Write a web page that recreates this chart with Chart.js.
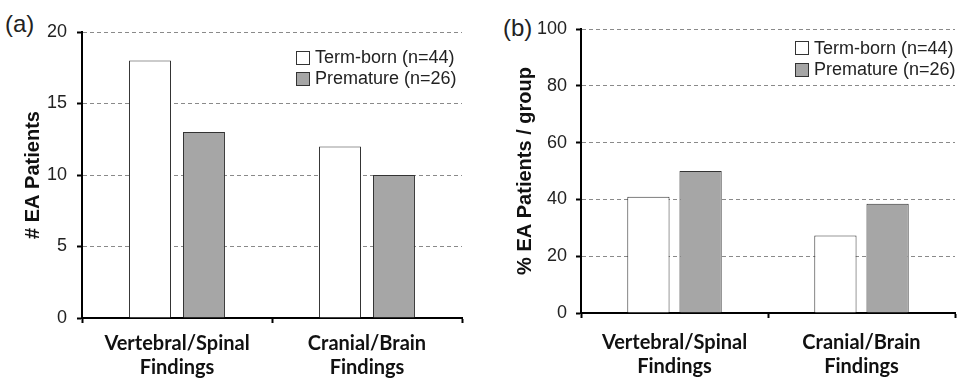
<!DOCTYPE html>
<html>
<head>
<meta charset="utf-8">
<script src="https://cdn.jsdelivr.net/npm/chart.js@4/dist/chart.umd.min.js"></script>
<style>
  html, body { margin: 0; padding: 0; background: #fff; }
  body { width: 957px; height: 378px; position: relative; overflow: hidden; }
  canvas { position: absolute; top: 0; }
  #cA { left: 0; }
  #cB { left: 480px; }
  .panel { position: absolute; font-family: "Liberation Sans", Arial, sans-serif; font-size: 24px; color: #222; line-height: 1; }
</style>
</head>
<body>
<div class="panel" style="left:5px; top:12px;">(a)</div>
<div class="panel" style="left:503px; top:16px;">(b)</div>
<canvas id="cA" width="470" height="378"></canvas>
<canvas id="cB" width="477" height="378"></canvas>
<script>
// ---- data ----
const categories = [['Vertebral/Spinal', 'Findings'], ['Cranial/Brain', 'Findings']];
const seriesNames = ['Term-born (n=44)', 'Premature (n=26)'];
const countTermBorn = [18, 12];
const countPremature = [13, 10];
const pctTermBorn = [40.9, 27.3];
const pctPremature = [50.0, 38.5];
const countTicks = [0, 5, 10, 15, 20];
const pctTicks = [0, 20, 40, 60, 80, 100];
const yTitleCount = '# EA Patients';
const yTitlePct = '% EA Patients / group';

// ---- styles ----
const seriesFill = ['#ffffff', '#a6a6a6'];
const seriesBorder = ['#333333', '#333333'];
const tickFont = { family: '"Liberation Sans", Arial, sans-serif', size: 18 };
const catFont = { family: 'Lato, "Open Sans", sans-serif', size: 20, weight: 'bold', lineHeight: 1.2 };
const titleFont = { family: '"Liberation Sans", Arial, sans-serif', size: 20, weight: 'bold', lineHeight: 1.2 };

const boxLegend = {
  id: 'boxLegend',
  afterDraw(chart, args, opts) {
    const ctx = chart.ctx;
    ctx.save();
    ctx.font = '18px "Liberation Sans", Arial, sans-serif';
    ctx.textBaseline = 'middle';
    ctx.textAlign = 'left';
    chart.data.datasets.forEach((ds, i) => {
      const cy = opts.y + i * opts.rowGap;
      const bx = opts.x, by = Math.round(cy - 7);
      ctx.fillStyle = ds.backgroundColor;
      ctx.fillRect(bx, by, 14, 14);
      ctx.strokeStyle = ds.borderColor;
      ctx.lineWidth = 1;
      ctx.strokeRect(bx + 0.5, by + 0.5, 13, 13);
      ctx.fillStyle = '#222';
      ctx.fillText(ds.label, bx + 19, cy + 1);
    });
    ctx.restore();
  }
};

function makeChart(id, a, b, ticks, title, cfg) {
  const datasets = [a, b].map((vals, i) => ({
    label: seriesNames[i],
    data: vals,
    backgroundColor: seriesFill[i],
    borderColor: seriesBorder[i],
    borderWidth: 1,
    borderSkipped: 'bottom',
    categoryPercentage: cfg.cp,
    barPercentage: cfg.bp
  }));
  return new Chart(document.getElementById(id), {
    type: 'bar',
    data: { labels: categories, datasets },
    plugins: [boxLegend],
    options: {
      responsive: false,
      animation: false,
      events: [],
      layout: { padding: { top: cfg.top, right: cfg.right, left: 0, bottom: 0 } },
      plugins: {
        legend: { display: false },
        tooltip: { enabled: false },
        boxLegend: cfg.legend
      },
      scales: {
        x: {
          offset: true,
          grid: { offset: true, drawOnChartArea: false, drawTicks: true, tickLength: 5, tickColor: '#000', tickWidth: 2 },
          border: { display: true, color: '#000', width: 2 },
          ticks: { color: '#111', font: catFont, padding: cfg.xpad, maxRotation: 0, autoSkip: false },
          afterFit: (s) => { s.height = cfg.xh; }
        },
        y: {
          min: ticks[0],
          max: ticks[ticks.length - 1],
          afterBuildTicks: (s) => { s.ticks = ticks.map(v => ({ value: v })); },
          grid: { color: '#8a8a8a', lineWidth: 1, drawTicks: true, tickLength: 5, tickColor: '#000', tickWidth: 2, tickBorderDash: [0, 0] },
          border: { display: true, color: '#000', width: 2, dash: [4, 3] },
          ticks: { color: '#222', font: tickFont, padding: cfg.ypad },
          title: { display: true, text: title, color: '#111', font: titleFont, padding: { top: cfg.tpad, bottom: 0 } },
          afterFit: (s) => { s.width = cfg.yw; }
        }
      }
    }
  });
}

makeChart('cA', countTermBorn, countPremature, countTicks, yTitleCount,
  { cp: 0.568, bp: 0.778, top: 32, right: 8, xh: 60, yw: 82, xpad: 9, ypad: 10, tpad: 21,
    legend: { x: 296, y: 57.5, rowGap: 21 } });
makeChart('cB', pctTermBorn, pctPremature, pctTicks, yTitlePct,
  { cp: 0.558, bp: 0.81, top: 29, right: 2, xh: 65, yw: 101, xpad: 13, ypad: 9, tpad: 33,
    legend: { x: 315, y: 48, rowGap: 21.5 } });
</script>
</body>
</html>
